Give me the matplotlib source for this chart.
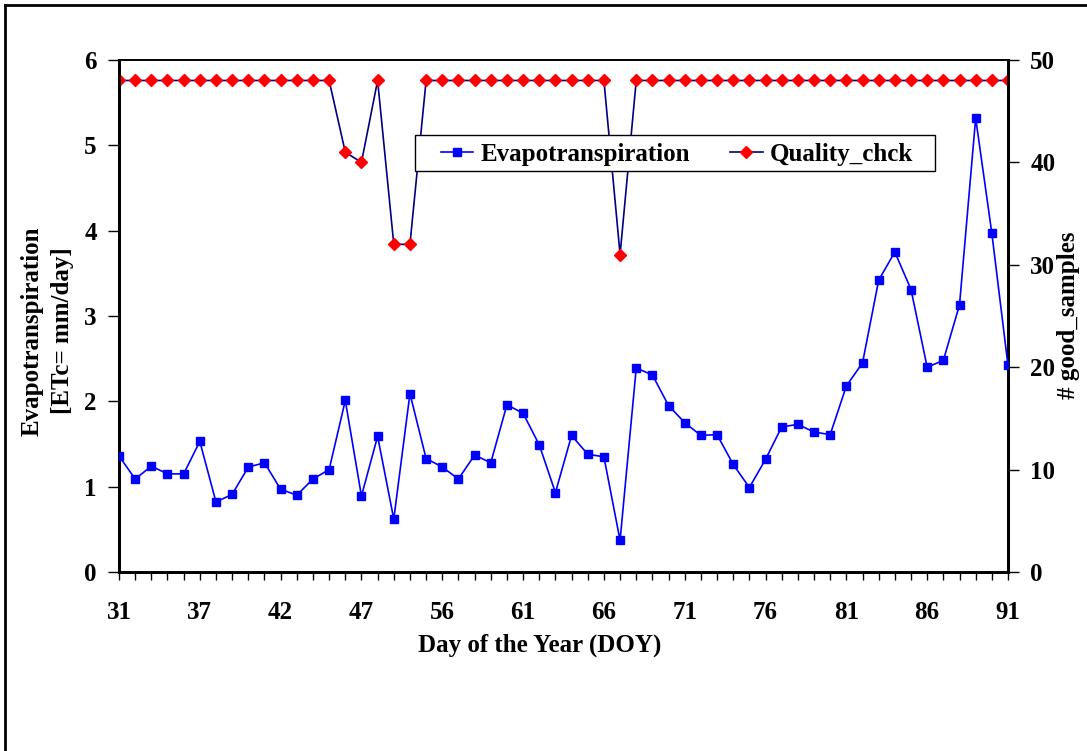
import matplotlib
matplotlib.use('Agg')
import matplotlib.pyplot as plt
from matplotlib.lines import Line2D
from matplotlib.patches import Rectangle

plt.rcParams['font.family'] = ['Liberation Serif', 'DejaVu Serif']
plt.rcParams['font.weight'] = 'bold'

# day of year for each sample (some days missing)
doy = [31, 33, 34, 35, 36, 37, 38, 39, 40, 41, 42, 43, 44, 45, 46, 47,
       48, 49, 53, 54, 56, 57, 58, 59, 60, 61, 62, 63, 64, 65, 66, 67,
       68, 69, 70, 71, 72, 73, 74, 75, 76, 77, 78, 79, 80, 81, 82, 83,
       84, 85, 86, 87, 88, 89, 90, 91]

# evapotranspiration [mm/day]
etc = [1.36, 1.09, 1.24, 1.15, 1.15, 1.53, 0.82, 0.91, 1.23, 1.28,
       0.97, 0.90, 1.09, 1.20, 2.01, 0.89, 1.59, 0.62, 2.09, 1.33,
       1.23, 1.09, 1.37, 1.28, 1.96, 1.86, 1.49, 0.93, 1.60, 1.38,
       1.35, 0.37, 2.39, 2.31, 1.95, 1.75, 1.60, 1.61, 1.26, 0.99,
       1.32, 1.70, 1.73, 1.64, 1.61, 2.18, 2.45, 3.42, 3.75, 3.31,
       2.40, 2.48, 3.13, 5.32, 3.97, 2.42]

# number of good samples
good = [48, 48, 48, 48, 48, 48, 48, 48, 48, 48, 48, 48, 48, 48, 41, 40,
        48, 32, 32, 48, 48, 48, 48, 48, 48, 48, 48, 48, 48, 48, 48, 31,
        48, 48, 48, 48, 48, 48, 48, 48, 48, 48, 48, 48, 48, 48, 48, 48,
        48, 48, 48, 48, 48, 48, 48, 48]

FS = 18
W, H = 1087, 751
fig = plt.figure(figsize=(W / 100, H / 100), dpi=100)
ax = fig.add_axes([119 / W, 1 - 572 / H, 889 / W, 512 / H])
ax2 = ax.twinx()

x = list(range(len(doy)))
ax.plot(x, etc, color='#0000ff', lw=1.2, marker='s', ms=6, mec='#0000ff', mfc='#0000ff', zorder=3)
ax2.plot(x, good, color='#000080', lw=1.2, marker='D', ms=6, mec='#ff0000', mfc='#ff0000', zorder=3)

# axes limits / ticks
ax.set_xlim(0, len(doy) - 1)
ax.set_ylim(0, 6)
ax2.set_ylim(0, 50)
ax.set_xticks(x[::5])
ax.set_xticklabels([str(doy[i]) for i in x[::5]])
ax.set_xticks(x, minor=True)
ax.set_yticks(range(0, 7))
ax2.set_yticks(range(0, 51, 10))

ax.tick_params(axis='x', which='both', direction='out', length=6, width=1, pad=15, labelsize=FS)
ax.tick_params(axis='y', direction='out', length=8, width=1, pad=8, labelsize=FS)
ax2.tick_params(axis='y', direction='out', length=8, width=1, pad=8, labelsize=FS)
for a in (ax, ax2):
    for s in a.spines.values():
        s.set_linewidth(1.2)
    a.spines['left'].set_linewidth(2)
    a.spines['bottom'].set_linewidth(2)
    a.spines['right'].set_linewidth(2)
ax.set_zorder(ax2.get_zorder() + 1)
ax.patch.set_visible(False)

# labels
fig.text(32 / W, 1 - 331 / H, 'Evapotranspiration', rotation=90, ha='center', va='center', fontsize=FS)
fig.text(62 / W, 1 - 331 / H, '[ETc= mm/day]', rotation=90, ha='center', va='center', fontsize=FS)
fig.text(1068 / W, 1 - 315 / H, '# good_samples', rotation=90, ha='center', va='center', fontsize=FS)
fig.text(540 / W, 1 - 645 / H, 'Day of the Year (DOY)', ha='center', va='center', fontsize=FS)

# legend (box drawn separately so it can be sized like the original)
handles = [Line2D([], [], color='#0000ff', lw=1.2, marker='s', ms=6, mfc='#0000ff', mec='#0000ff'),
           Line2D([], [], color='#000080', lw=1.2, marker='D', ms=6, mfc='#ff0000', mec='#ff0000')]
ax.add_patch(Rectangle((415 / W, 1 - 171 / H), 520 / W, 36 / H, transform=fig.transFigure,
                       facecolor='white', edgecolor='black', lw=1.0, zorder=8, clip_on=False))
leg = ax.legend(handles, ['Evapotranspiration', 'Quality_chck'], ncol=2, loc='center',
                bbox_to_anchor=((677 - 119) / 889, (572 - 154) / 512), fontsize=FS,
                frameon=False, handlelength=1.3, columnspacing=1.6, borderpad=0.1,
                handletextpad=0.3)
leg.set_zorder(9)

# outer chart border
fig.add_artist(Line2D([5 / W, 5 / W], [0, 1 - 5 / H], transform=fig.transFigure, color='black', lw=2))
fig.add_artist(Line2D([5 / W, 1086 / W], [1 - 5 / H, 1 - 5 / H], transform=fig.transFigure, color='black', lw=2))

fig.savefig('out.png', dpi=100)
